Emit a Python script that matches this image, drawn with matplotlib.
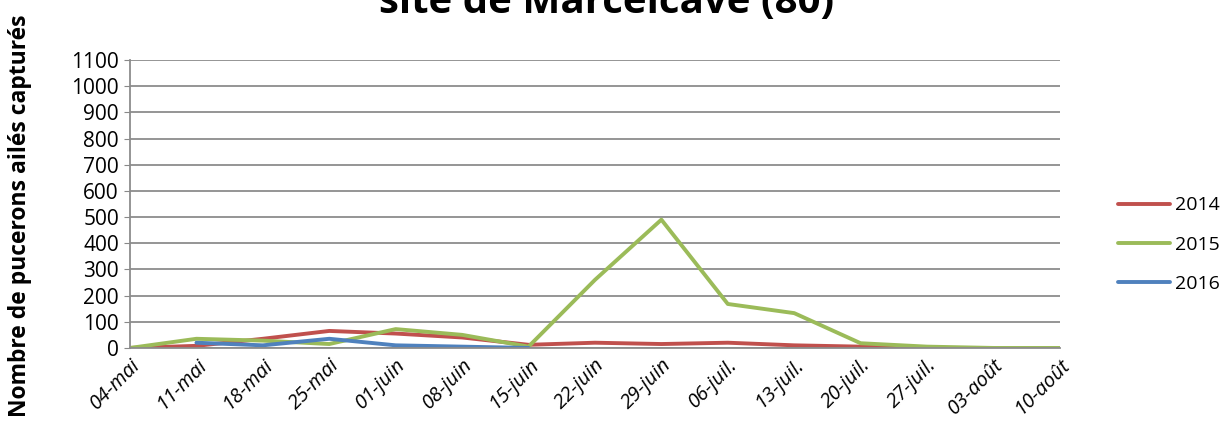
import numpy as np
import matplotlib
matplotlib.use("Agg")
import matplotlib.pyplot as plt

dates = ["04-mai", "11-mai", "18-mai", "25-mai", "01-juin", "08-juin", "15-juin",
         "22-juin", "29-juin", "06-juil.", "13-juil.", "20-juil.", "27-juil.",
         "03-août", "10-août"]
y2014 = [0, 8, 35, 65, 55, 40, 12, 20, 15, 20, 10, 5, 0, 0, np.nan]
y2015 = [0, 35, 28, 15, 72, 50, 5, 260, 490, 168, 133, 18, 5, 0, 0]
y2016 = [np.nan, 20, 10, 35, 10, 5, 0] + [np.nan] * 8

series = [("2014", y2014, "#C0504D"), ("2015", y2015, "#9BBB59"), ("2016", y2016, "#4F81BD")]

plt.rcParams['font.family'] = ['Open Sans', 'DejaVu Sans']

fig = plt.figure(figsize=(12.3, 4.41), dpi=100)
ax = fig.add_axes([0.1057, 0.211, 0.756, 0.653])

x = np.arange(len(dates))
for name, vals, col in series:
    ax.plot(x, vals, color=col, lw=2.8, label=name, solid_capstyle='round')

ax.set_xlim(0, len(dates) - 1)
ax.set_ylim(0, 1100)
ax.set_yticks(range(0, 1101, 100))
ax.set_xticks(x)
ax.set_xticklabels(dates, rotation=45, ha='right', rotation_mode='anchor',
                   fontstyle='italic', fontsize=14.5)
ax.tick_params(axis='y', labelsize=15, length=4, color='#888888', pad=4)
ax.tick_params(axis='x', length=0, pad=5)
ax.grid(axis='y', color='#8c8c8c', lw=1.3)
ax.set_axisbelow(True)
for s in ['top', 'right']:
    ax.spines[s].set_visible(False)
for s in ['left', 'bottom']:
    ax.spines[s].set_color('#8c8c8c')
    ax.spines[s].set_linewidth(1.3)

ax.set_ylabel("Nombre de pucerons ailés capturés", fontsize=16.5, fontweight='bold')
ax.yaxis.set_label_coords(-0.105, 0.46)

leg = ax.legend(loc='center left', bbox_to_anchor=(1.062, 0.358), frameon=False,
                fontsize=14, handlelength=2.7, labelspacing=1.1, handletextpad=0.25,
                borderpad=0, borderaxespad=0)

fig.text(0.493, 0.9705, "site de Marcelcave (80)", ha='center', va='baseline',
         fontsize=29, fontweight='bold')

fig.savefig("out.png", dpi=100)
